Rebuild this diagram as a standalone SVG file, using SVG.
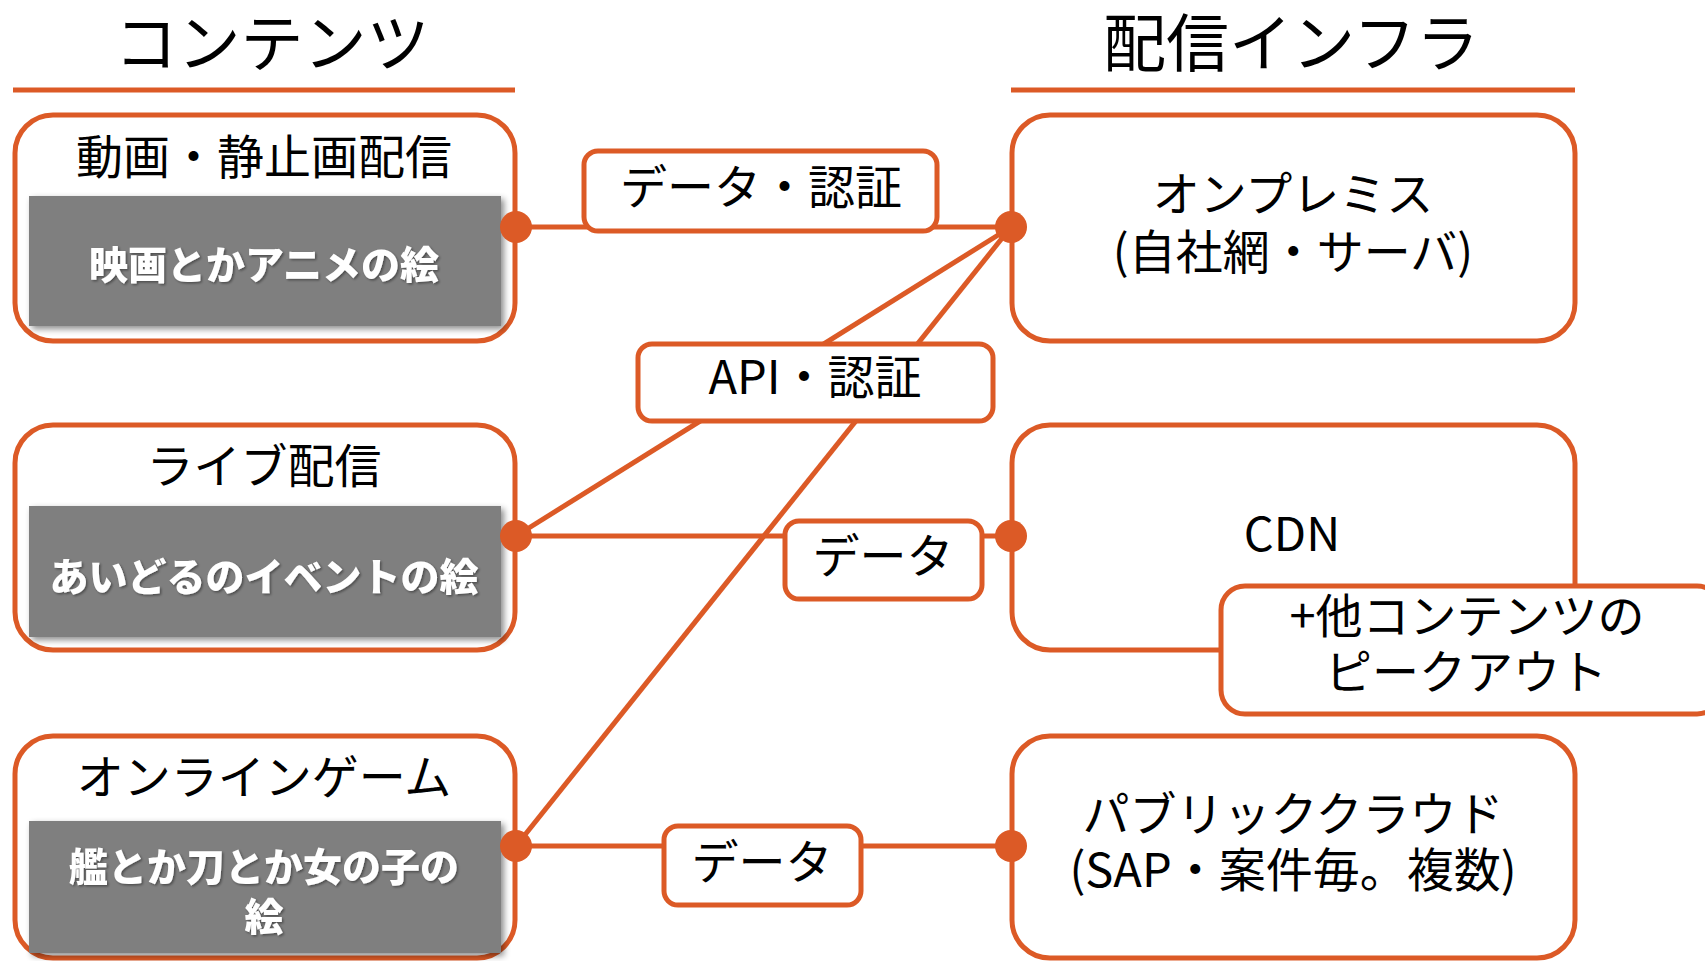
<svg xmlns="http://www.w3.org/2000/svg" width="1705" height="961" viewBox="0 0 1705 961">
<defs>
<style>
.box{fill:#fff;stroke:#DC5A26;stroke-width:5}
.lbl{fill:#fff;stroke:#DC5A26;stroke-width:5}
.ln{stroke:#DC5A26;stroke-width:5;fill:none}
.dot{fill:#DC5A26}
.hd{stroke:#DC5A26;stroke-width:5}
.t{font-family:"Noto Sans CJK JP","Noto Sans",sans-serif;fill:#000;text-anchor:middle}
.h{font-size:63px}
.m{font-size:47px}
.pic{fill:#7F7F7F}
.pt{font-family:"Noto Sans CJK JP",sans-serif;font-weight:900;fill:#fff;text-anchor:middle;font-size:39px}
</style>
<filter id="sh" x="-5%" y="-10%" width="112%" height="125%">
<feDropShadow dx="3" dy="3" stdDeviation="3" flood-color="#000" flood-opacity="0.45"/>
</filter>
<filter id="tsh" x="-5%" y="-20%" width="110%" height="140%">
<feDropShadow dx="1.5" dy="1.5" stdDeviation="1" flood-color="#000" flood-opacity="0.4"/>
</filter>
</defs>
<rect width="1705" height="961" fill="#fff"/>

<g id="header-contents">
<text class="t h" x="272" y="66">コンテンツ</text>
<line class="hd" x1="13" y1="90" x2="515" y2="90"/>
</g>
<g id="header-infra">
<text class="t h" x="1291" y="66">配信インフラ</text>
<line class="hd" x1="1011" y1="90" x2="1575" y2="90"/>
</g>

<g id="connectors">
<line class="ln" x1="516" y1="227" x2="1011" y2="227"/>
<line class="ln" x1="516" y1="536" x2="1011" y2="227"/>
<line class="ln" x1="516" y1="846" x2="1011" y2="227"/>
<line class="ln" x1="516" y1="536" x2="1011" y2="536"/>
<line class="ln" x1="516" y1="846" x2="1011" y2="846"/>
</g>

<g id="label-data-auth">
<rect class="lbl" x="584" y="151" width="353" height="80" rx="14"/>
<text class="t m" x="761" y="204">データ・認証</text>
</g>
<g id="label-api-auth">
<rect class="lbl" x="638" y="344" width="355" height="77" rx="14"/>
<text class="t m" x="815" y="394">API・認証</text>
</g>
<g id="label-data-mid">
<rect class="lbl" x="785" y="521" width="197" height="78" rx="14"/>
<text class="t m" x="883" y="573">データ</text>
</g>
<g id="label-data-bottom">
<rect class="lbl" x="664" y="826" width="197" height="79" rx="14"/>
<text class="t m" x="762" y="879">データ</text>
</g>

<g id="node-video">
<rect class="box" x="15" y="115" width="500" height="226" rx="38"/>
<text class="t m" x="264" y="174">動画・静止画配信</text>
<rect class="pic" x="29" y="196" width="472" height="130" filter="url(#sh)"/>
<text class="pt" x="264" y="279" filter="url(#tsh)">映画とかアニメの絵</text>
</g>
<g id="node-live">
<rect class="box" x="15" y="425" width="500" height="225" rx="38"/>
<text class="t m" x="264" y="483">ライブ配信</text>
<rect class="pic" x="29" y="506" width="472" height="131" filter="url(#sh)"/>
<text class="pt" x="264" y="591" filter="url(#tsh)">あいどるのイベントの絵</text>
</g>
<g id="node-game">
<rect class="box" x="15" y="736" width="500" height="222" rx="38"/>
<text class="t m" x="264" y="794">オンラインゲーム</text>
<rect class="pic" x="29" y="821" width="472" height="132" filter="url(#sh)"/>
<text class="pt" x="264" y="881" filter="url(#tsh)">艦とか刀とか女の子の</text>
<text class="pt" x="264" y="931" filter="url(#tsh)">絵</text>
</g>

<g id="node-onprem">
<rect class="box" x="1012" y="115" width="563" height="226" rx="38"/>
<text class="t m" x="1293" y="211">オンプレミス</text>
<text class="t m" x="1293" y="269">(自社網・サーバ)</text>
</g>
<g id="node-cdn">
<rect class="box" x="1012" y="425" width="563" height="225" rx="38"/>
<text class="t m" x="1292" y="551">CDN</text>
</g>
<g id="node-peakout">
<rect class="box" x="1221" y="586" width="500" height="128" rx="24"/>
<text class="t m" x="1467" y="633">+他コンテンツの</text>
<text class="t m" x="1466" y="689">ピークアウト</text>
</g>
<g id="node-cloud">
<rect class="box" x="1012" y="736" width="563" height="222" rx="38"/>
<text class="t m" x="1293" y="831">パブリッククラウド</text>
<text class="t m" x="1293" y="887">(SAP・案件毎。複数)</text>
</g>

<g id="dots">
<circle class="dot" cx="516" cy="227" r="16"/>
<circle class="dot" cx="516" cy="536" r="16"/>
<circle class="dot" cx="516" cy="846" r="16"/>
<circle class="dot" cx="1011" cy="227" r="16"/>
<circle class="dot" cx="1011" cy="536" r="16"/>
<circle class="dot" cx="1011" cy="846" r="16"/>
</g>
</svg>
